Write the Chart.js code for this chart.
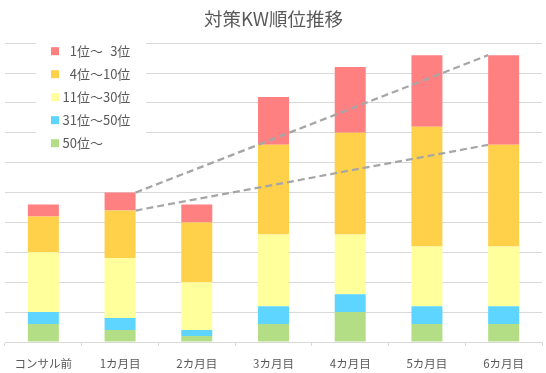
<!DOCTYPE html>
<html>
<head>
<meta charset="utf-8">
<script src="https://cdn.jsdelivr.net/npm/chart.js@4/dist/chart.umd.min.js"></script>
<style>
html,body{margin:0;padding:0;background:#fff;}
#wrap{width:546px;height:373px;position:relative;}
</style>
</head>
<body>
<div id="wrap"><canvas id="c" width="546" height="373"></canvas></div>
<script>
const categories = ['コンサル前', '1カ月目', '2カ月目', '3カ月目', '4カ月目', '5カ月目', '6カ月目'];
const seriesLabels = ['50位～', '31位～50位', '11位～30位', '\u20074位～10位', '\u20071位～\u20073位'];
const rank50plus = [3, 2, 1, 3, 5, 3, 3];
const rank31to50 = [2, 2, 1, 3, 3, 3, 3];
const rank11to30 = [10, 10, 8, 12, 10, 10, 10];
const rank4to10 = [6, 8, 10, 15, 17, 20, 17];
const rank1to3 = [2, 3, 3, 8, 11, 12, 15];
const colors = ['#B4DE86', '#5DD5FF', '#FFFF9C', '#FFD04A', '#FF8080'];
const FONT = '"Noto Sans CJK JP", "Noto Sans", sans-serif';
const TEXT = '#595959';

const seriesData = [rank50plus, rank31to50, rank11to30, rank4to10, rank1to3];

const datasets = seriesData.map((d, i) => ({
  label: seriesLabels[i],
  data: d,
  backgroundColor: colors[i],
  borderWidth: 0,
  categoryPercentage: 1.0,
  barPercentage: 0.404
}));

const seriesLinesPlugin = {
  id: 'seriesLines',
  afterDatasetsDraw(chart) {
    const ctx = chart.ctx;
    ctx.save();
    ctx.strokeStyle = '#A6A6A6';
    ctx.lineWidth = 2.25;
    ctx.setLineDash([7, 4]);
    [3, 4].forEach(di => {
      const meta = chart.getDatasetMeta(di);
      const a = meta.data[1], b = meta.data[6];
      ctx.beginPath();
      ctx.moveTo(a.x + a.width / 2, a.y);
      ctx.lineTo(b.x - b.width / 2, b.y);
      ctx.stroke();
    });
    ctx.restore();
  }
};

const insideLegendPlugin = {
  id: 'insideLegend',
  afterDatasetsDraw(chart) {
    const ctx = chart.ctx;
    const ca = chart.chartArea;
    ctx.save();
    const bx = ca.left + 31, by = ca.top - 5;
    ctx.fillStyle = '#ffffff';
    ctx.fillRect(bx, by, 110, 117);
    const ds = chart.data.datasets.slice().reverse();
    ctx.font = '13px ' + FONT;
    ctx.textBaseline = 'middle';
    ctx.textAlign = 'left';
    ds.forEach((d, i) => {
      const y = ca.top + 8 + i * 23;
      ctx.fillStyle = d.backgroundColor;
      ctx.fillRect(ca.left + 46, y - 4, 8, 8);
      ctx.fillStyle = TEXT;
      ctx.fillText(d.label, ca.left + 57.5, y);
    });
    ctx.restore();
  }
};

new Chart(document.getElementById('c'), {
  type: 'bar',
  data: { labels: categories, datasets },
  plugins: [seriesLinesPlugin, insideLegendPlugin],
  options: {
    responsive: false,
    animation: false,
    devicePixelRatio: 1,
    layout: { padding: { left: 5, right: 4, top: 0, bottom: 0 } },
    plugins: {
      legend: { display: false },
      tooltip: { enabled: false },
      title: {
        display: true,
        text: '対策KW順位推移',
        color: TEXT,
        font: { family: FONT, size: 18.5, weight: 'normal' },
        padding: { top: 8, bottom: 13 }
      }
    },
    scales: {
      x: {
        stacked: true,
        afterFit: (scale) => { scale.height = 31; },
        grid: { display: true, drawOnChartArea: false, drawTicks: true, tickLength: 4, color: '#D9D9D9', offset: true },
        border: { display: true, color: '#D9D9D9', width: 1 },
        ticks: { color: TEXT, font: { family: FONT, size: 11.5 }, padding: 11, maxRotation: 0, autoSkip: false }
      },
      y: {
        stacked: true,
        min: 0,
        max: 50,
        ticks: { display: false, stepSize: 5 },
        grid: { color: '#D9D9D9', lineWidth: 1, drawTicks: false },
        border: { display: false }
      }
    }
  }
});
</script>
</body>
</html>
